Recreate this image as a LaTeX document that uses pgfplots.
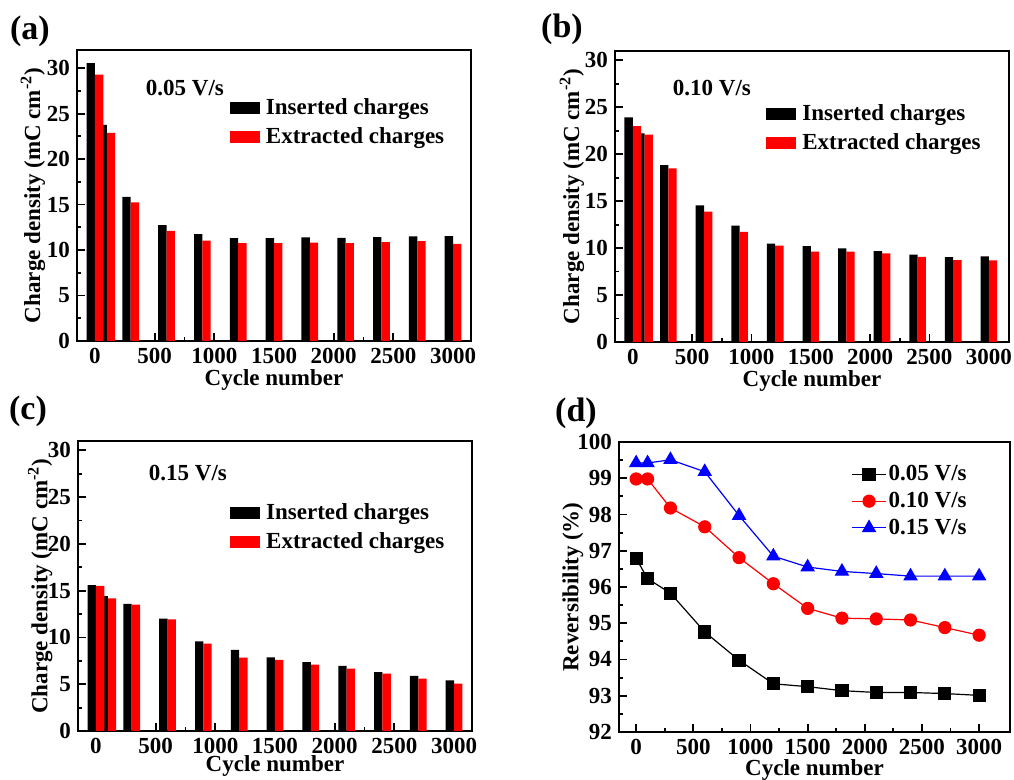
\documentclass[border=0pt]{standalone}
\usepackage{pgfplots}
\pgfplotsset{compat=1.18}
\usepackage{fontspec}
\setmainfont{Liberation Serif}
\begin{document}
\begin{tikzpicture}
\path[use as bounding box] (0pt,0pt) rectangle (507pt,390pt);
\pgfplotsset{
 panel/.style={
  scale only axis, width=197pt, height=145.5pt, anchor=south west,
  font=\fontsize{11.5}{13}\selectfont\bfseries,
  tick label style={font=\fontsize{11.5}{13}\selectfont\bfseries},
  /pgf/number format/assume math mode=true,
  /pgf/number format/1000 sep={},
  axis line style={line width=1pt},
  tick style={line width=0.9pt, black},
  major tick length=4pt, minor tick length=2.2pt,
  tick align=inside, tick pos=left,
  xmin=-150, xmax=3150, xtick={0,500,...,3000}, minor x tick num=1,
  xlabel={Cycle number},
  legend cell align=left,
 },
 barpanel/.style={panel, ymin=0, ytick={0,5,...,30}, minor y tick num=1,
   ylabel={Charge density (mC cm\textsuperscript{-2})},
   legend style={draw=none, fill=none, anchor=north west, row sep=3pt,
     nodes={inner ysep=1pt, inner xsep=3pt}},
 },
 blk/.style={ybar, fill=black, draw=none, bar width=70, bar shift=-35,
   legend image code/.code={\fill[black] (0pt,-3pt) rectangle (15pt,3pt);}},
 rd/.style={ybar, fill=red, draw=none, bar width=70, bar shift=35,
   legend image code/.code={\fill[red] (0pt,-3pt) rectangle (15pt,3pt);}},
}
% (a)
\begin{axis}[barpanel, at={(38.5pt,219.5pt)}, ymax=32,
  ylabel style={at={(axis description cs:-0.112,0.5)}, anchor=center},
  xlabel style={at={(axis description cs:0.5,-0.135)}, anchor=center},
  legend style={at={(axis description cs:0.372,0.855)}}]
\addplot[blk] coordinates {(0,30.55) (100,23.76) (300,15.86) (600,12.74) (900,11.75) (1200,11.31) (1500,11.31) (1800,11.38) (2100,11.35) (2400,11.42) (2700,11.5) (3000,11.53)};
\addplot[rd] coordinates {(0,29.3) (100,22.88) (300,15.24) (600,12.12) (900,11.05) (1200,10.76) (1500,10.76) (1800,10.83) (2100,10.76) (2400,10.87) (2700,10.98) (3000,10.69)};
\legend{Inserted charges, Extracted charges}
\node at (axis description cs:0.274,0.869) {0.05 V/s};
\end{axis}
% (b)
\begin{axis}[barpanel, at={(307.5pt,219pt)}, ymax=31, xmax=3170,
  ylabel style={at={(axis description cs:-0.109,0.5)}, anchor=center},
  xlabel style={at={(axis description cs:0.5,-0.135)}, anchor=center},
  legend style={at={(axis description cs:0.368,0.838)}}]
\addplot[blk] coordinates {(0,23.94) (100,22.23) (300,18.85) (600,14.54) (900,12.4) (1200,10.47) (1500,10.22) (1800,9.98) (2100,9.69) (2400,9.3) (2700,9.05) (3000,9.12)};
\addplot[rd] coordinates {(0,23.0) (100,22.1) (300,18.49) (600,13.9) (900,11.72) (1200,10.26) (1500,9.62) (1800,9.62) (2100,9.44) (2400,9.08) (2700,8.73) (3000,8.69)};
\legend{Inserted charges, Extracted charges}
\node at (axis description cs:0.246,0.873) {0.10 V/s};
\end{axis}
% (c)
\begin{axis}[barpanel, at={(39pt,24.5pt)}, height=145pt, ymax=31,
  ylabel style={at={(axis description cs:-0.096,0.5)}, anchor=center},
  xlabel style={at={(axis description cs:0.5,-0.12)}, anchor=center},
  legend style={at={(axis description cs:0.37,0.805)}}]
\addplot[blk] coordinates {(0,15.6) (100,14.43) (300,13.6) (600,12.0) (900,9.58) (1200,8.66) (1500,7.87) (1800,7.37) (2100,6.95) (2400,6.3) (2700,5.88) (3000,5.42)};
\addplot[rd] coordinates {(0,15.5) (100,14.18) (300,13.5) (600,11.93) (900,9.33) (1200,7.84) (1500,7.59) (1800,7.09) (2100,6.66) (2400,6.13) (2700,5.59) (3000,5.06)};
\legend{Inserted charges, Extracted charges}
\node at (axis description cs:0.279,0.89) {0.15 V/s};
\end{axis}
% (d)
\begin{axis}[panel, at={(309.5pt,24pt)}, width=195.5pt, height=145pt,
  xmax=3270, ymin=92, ymax=100, ytick={92,93,...,100}, minor y tick num=1,
  ylabel={Reversibility (\%)},
  ylabel style={at={(axis description cs:-0.118,0.5)}, anchor=center},
  xlabel style={at={(axis description cs:0.5,-0.13)}, anchor=center},
  legend style={draw=none, fill=none, anchor=north west, at={(axis description cs:0.578,0.945)},
    row sep=1.2pt, nodes={inner ysep=1.5pt, inner xsep=1pt}}]
\addplot[black, line width=0.6pt, mark=square*, mark size=3pt] coordinates {(0,96.79) (100,96.23) (300,95.83) (600,94.76) (900,93.98) (1200,93.33) (1500,93.25) (1800,93.14) (2100,93.09) (2400,93.09) (2700,93.06) (3000,93.01)};
\addplot[red, line width=0.6pt, mark=*, mark size=3pt] coordinates {(0,98.98) (100,98.98) (300,98.18) (600,97.66) (900,96.81) (1200,96.09) (1500,95.41) (1800,95.14) (2100,95.12) (2400,95.09) (2700,94.88) (3000,94.67)};
\addplot[blue, line width=0.6pt, mark=triangle*, mark size=3.6pt] coordinates {(0,99.42) (100,99.42) (300,99.51) (600,99.18) (900,97.97) (1200,96.85) (1500,96.55) (1800,96.43) (2100,96.37) (2400,96.3) (2700,96.3) (3000,96.3)};
\legend{0.05 V/s, 0.10 V/s, 0.15 V/s}
\end{axis}
\node[font=\fontsize{17}{20}\selectfont\bfseries] at (15pt,374.5pt) {(a)};
\node[font=\fontsize{17}{20}\selectfont\bfseries] at (281pt,375.5pt) {(b)};
\node[font=\fontsize{17}{20}\selectfont\bfseries] at (14pt,184.5pt) {(c)};
\node[font=\fontsize{17}{20}\selectfont\bfseries] at (288pt,183.5pt) {(d)};
\end{tikzpicture}
\end{document}
